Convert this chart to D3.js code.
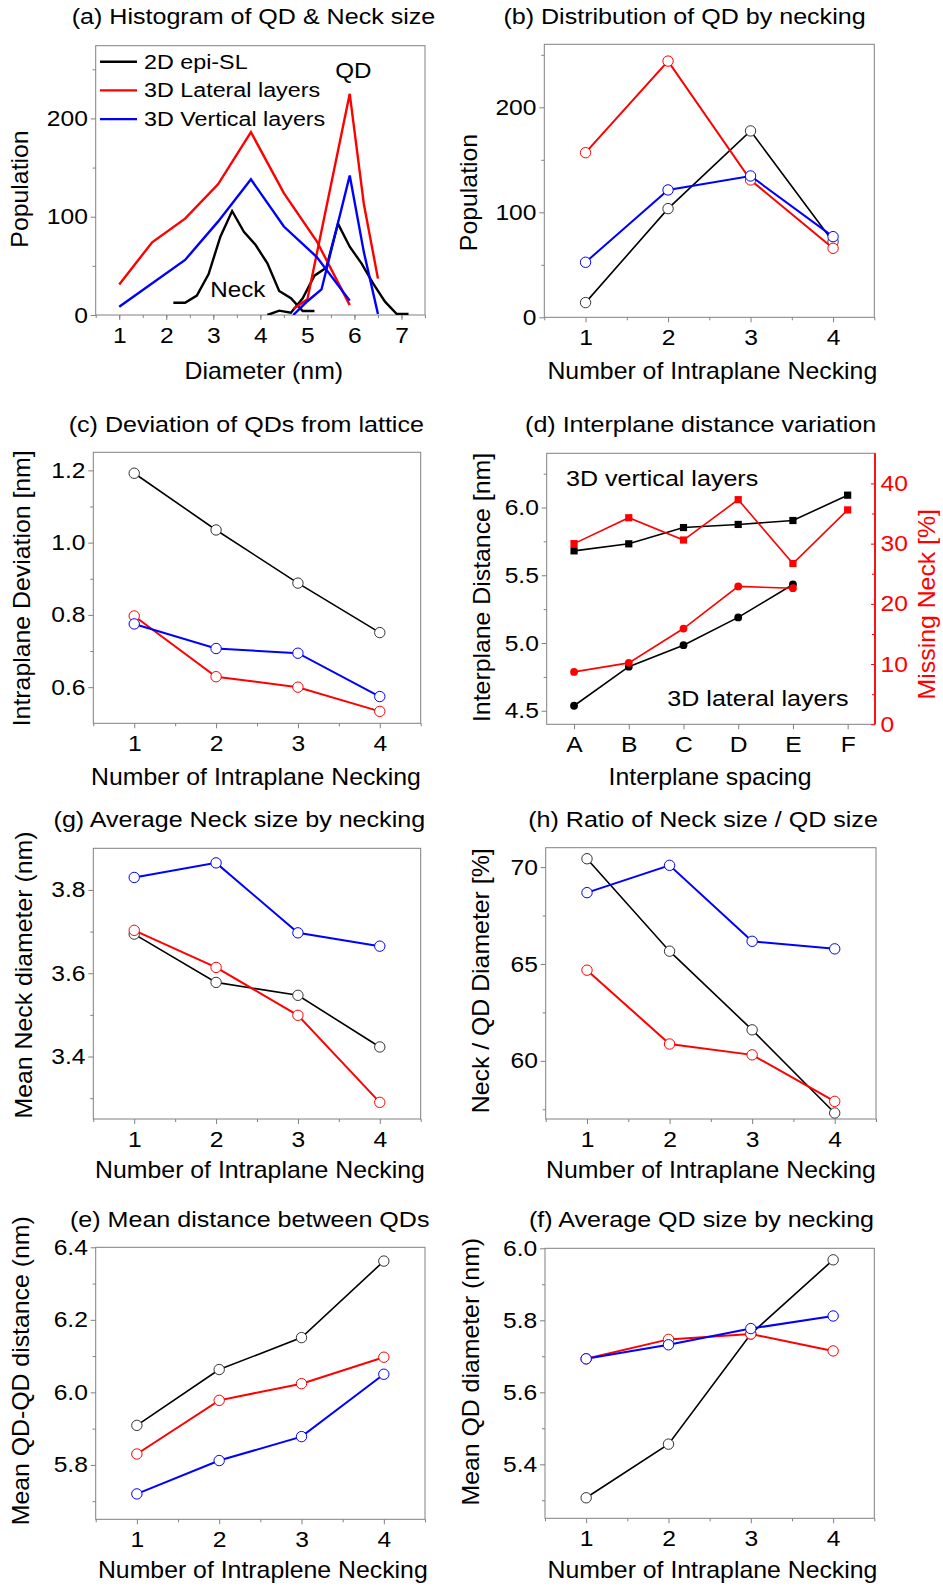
<!DOCTYPE html>
<html><head><meta charset="utf-8">
<script src="https://cdn.jsdelivr.net/npm/d3@7"></script>
<style>
html,body{margin:0;padding:0;background:#fff;}
svg{display:block;}
</style></head><body>
<svg id="chart" width="943" height="1587"></svg>
<script>
// ---------------- DATA ----------------
// (a) histogram of QD & neck size
const seriesNames = ["2D epi-SL", "3D Lateral layers", "3D Vertical layers"];
const diamTicks = [1, 2, 3, 4, 5, 6, 7];
const popTicks = [0, 100, 200];
const neckX_2D = [2.15, 2.4, 2.65, 2.9, 3.15, 3.4, 3.65, 3.9, 4.15, 4.4, 4.65, 4.9, 5.15];
const neck_2D  = [12.5, 12.5, 19.7, 41.7, 79.7, 105.8, 84.7, 71.2, 52.5, 24.4, 17, 4, 4];
const qdX_2D   = [4.15, 4.4, 4.65, 4.9, 5.15, 5.4, 5.65, 5.9, 6.15, 6.4, 6.65, 6.9, 7.15];
const qd_2D    = [0, 4.4, 2.4, 17, 40, 48, 93, 69.5, 52.5, 32, 13.6, 1, 1];
const neckX_Lat = [1, 1.7, 2.4, 3.1, 3.8, 4.5, 5.2, 5.9];
const neck_Lat  = [31, 74, 98, 133, 186, 124, 75, 10];
const qdX_Lat   = [4.7, 5.0, 5.9, 6.2, 6.5];
const qd_Lat    = [6, 16, 225, 113, 37];
const neckX_Ver = [1, 2.4, 3.1, 3.8, 4.5, 5.2, 5.9];
const neck_Ver  = [8.5, 56, 95, 138, 90, 59, 14.6];
const qdX_Ver   = [4.7, 5.0, 5.3, 5.9, 6.2, 6.5];
const qd_Ver    = [0, 14, 26, 142, 64, 1];

// x categories for necking panels
const necking = [1, 2, 3, 4];
// (b) distribution of QD by necking
const pop_2D  = [14, 103.5, 177.5, 72];
const pop_Lat = [156.8, 244, 130.8, 65.7];
const pop_Ver = [52.4, 121.3, 134.6, 76.8];
// (c) deviation of QDs from lattice
const devTicks = [0.6, 0.8, 1.0, 1.2];
const dev_2D  = [1.192, 1.035, 0.888, 0.751];
const dev_Lat = [0.797, 0.629, 0.600, 0.533];
const dev_Ver = [0.775, 0.707, 0.694, 0.574];
// (d) interplane distance variation
const spacing = ["A", "B", "C", "D", "E", "F"];
const distTicks = [4.5, 5.0, 5.5, 6.0];
const missTicks = [0, 10, 20, 30, 40];
const dist_Ver = [5.680, 5.732, 5.852, 5.875, 5.904, 6.091];
const dist_Lat = [4.537, 4.825, 4.984, 5.189, 5.432];
const miss_Ver = [30.0, 34.3, 30.6, 37.3, 26.7, 35.6];
const miss_Lat = [8.7, 10.2, 15.9, 22.9, 22.6];
// (g) average neck size by necking
const neckSizeTicks = [3.4, 3.6, 3.8];
const neckSize_2D  = [3.694, 3.578, 3.547, 3.423];
const neckSize_Lat = [3.703, 3.614, 3.499, 3.290];
const neckSize_Ver = [3.830, 3.865, 3.697, 3.665];
// (h) ratio of neck size / QD size
const ratioTicks = [60, 65, 70];
const ratio_2D  = [70.43, 65.66, 61.6, 57.31];
const ratio_Lat = [64.68, 60.87, 60.31, 57.91];
const ratio_Ver = [68.68, 70.09, 66.17, 65.78];
// (e) mean distance between QDs
const qddTicks = [5.8, 6.0, 6.2, 6.4];
const qdd_2D  = [5.909, 6.063, 6.151, 6.362];
const qdd_Lat = [5.830, 5.978, 6.024, 6.097];
const qdd_Ver = [5.720, 5.812, 5.878, 6.050];
// (f) average QD size by necking
const qdsTicks = [5.4, 5.6, 5.8, 6.0];
const qds_2D  = [5.307, 5.456, 5.762, 5.968];
const qds_Lat = [5.693, 5.747, 5.762, 5.715];
const qds_Ver = [5.693, 5.732, 5.777, 5.812];

// ---------------- STYLE ----------------
const FONT = '"Liberation Sans", Arial, Helvetica, sans-serif';
const GRAY = "#808080";
const BLACK = "#000000", RED = "#ff0000", BLUE = "#0000ff";
const SXT = 1.12;   // horizontal stretch for tick labels
const svg = d3.select("#chart");
let clipId = 0;

function txt(parent, s, x, y, o = {}) {
  return parent.append("text").text(s)
    .attr("transform", `translate(${x},${y})${o.rotate ? ` rotate(${o.rotate})` : ""} scale(${o.sx || 1.12},1)`)
    .attr("text-anchor", o.anchor || "middle")
    .attr("font-size", o.size || 22)
    .attr("font-family", FONT)
    .attr("fill", o.fill || "#000");
}

function styleAxis(sel, color) {
  sel.select(".domain").remove();
  sel.attr("font-size", null).attr("font-family", null);
  sel.selectAll(".tick line").attr("stroke", color || GRAY).attr("stroke-width", 1);
  sel.selectAll(".tick text")
    .attr("font-size", 22).attr("font-family", FONT)
    .attr("fill", color || "#000")
    .attr("transform", `scale(${SXT},1)`);
}

function panel(c) {
  const g = svg.append("g");
  const x = c.xScale || d3.scaleLinear().domain(c.xDomain).range([c.l, c.r]);
  const y = d3.scaleLinear().domain(c.yDomain).range([c.b, c.t]);
  if (c.xMinor) g.append("g").attr("transform", `translate(0,${c.b})`)
    .call(d3.axisBottom(x).tickValues(c.xMinor).tickSize(3).tickFormat(""))
    .call(s => styleAxis(s));
  g.append("g").attr("transform", `translate(0,${c.b})`)
    .call(d3.axisBottom(x).tickValues(c.xTicks).tickSize(5).tickPadding(7).tickFormat(c.xFmt || d3.format("d")))
    .call(s => styleAxis(s));
  if (c.yMinor) g.append("g").attr("transform", `translate(${c.l},0)`)
    .call(d3.axisLeft(y).tickValues(c.yMinor).tickSize(3).tickFormat(""))
    .call(s => styleAxis(s));
  g.append("g").attr("transform", `translate(${c.l},0)`)
    .call(d3.axisLeft(y).tickValues(c.yTicks).tickSize(5).tickPadding(2).tickFormat(c.yFmt))
    .call(s => styleAxis(s));
  g.append("rect").attr("x", c.l).attr("y", c.t).attr("width", c.r - c.l).attr("height", c.b - c.t)
    .attr("fill", "none").attr("stroke", GRAY).attr("stroke-width", 1);
  const id = "clip" + (clipId++);
  svg.append("clipPath").attr("id", id).append("rect")
    .attr("x", c.l).attr("y", c.t).attr("width", c.r - c.l).attr("height", c.b - c.t);
  const clipped = g.append("g").attr("clip-path", `url(#${id})`);
  const plot = g.append("g");
  txt(g, c.title[0], c.title[1], c.title[2], { sx: 1.14 });
  txt(g, c.xlab[0], c.xlab[1], c.xlab[2], { size: 23, sx: 1.08 });
  txt(g, c.ylab[0], c.ylab[1], c.ylab[2], { size: 23, sx: 1.08, rotate: -90 });
  return { g, x, y, plot, clipped, c };
}

function lineCircles(p, xs, ys, color, lw) {
  const pts = xs.map((v, i) => [v, ys[i]]);
  const line = d3.line().x(d => p.x(d[0])).y(d => p.y(d[1]));
  p.plot.append("path").datum(pts).attr("d", line)
    .attr("fill", "none").attr("stroke", color).attr("stroke-width", lw);
  p.plot.append("g").selectAll("circle").data(pts).join("circle")
    .attr("cx", d => p.x(d[0])).attr("cy", d => p.y(d[1])).attr("r", 5.2)
    .attr("fill", "#fff").attr("stroke", color === BLACK ? "#333" : color).attr("stroke-width", 1);
}

function histLine(p, xs, ys, color) {
  const pts = xs.map((v, i) => [v, ys[i]]);
  p.clipped.append("path").datum(pts)
    .attr("d", d3.line().x(d => p.x(d[0])).y(d => p.y(d[1])))
    .attr("fill", "none").attr("stroke", color).attr("stroke-width", 2.4).attr("stroke-linejoin", "miter");
}

const halfSteps4 = d3.range(0.5, 4.6, 1);
const lineFmt = d3.format(".1f");

// ---------------- (a) ----------------
const pa = panel({
  l: 95.7, r: 425, t: 45.7, b: 315, xDomain: [0.5, 7.5], yDomain: [0, 274],
  xTicks: diamTicks, xMinor: d3.range(0.5, 7.6, 0.5), yTicks: popTicks, yMinor: [50, 150, 250], yFmt: d3.format("d"),
  title: ["(a) Histogram of QD & Neck size", 253.5, 24],
  xlab: ["Diameter (nm)", 263.8, 379], ylab: ["Population", 27.5, 189]
});
histLine(pa, neckX_2D, neck_2D, BLACK);
histLine(pa, qdX_2D, qd_2D, BLACK);
histLine(pa, neckX_Lat, neck_Lat, RED);
histLine(pa, qdX_Lat, qd_Lat, RED);
histLine(pa, neckX_Ver, neck_Ver, BLUE);
histLine(pa, qdX_Ver, qd_Ver, BLUE);
[BLACK, RED, BLUE].forEach((col, i) => {
  const yy = 61.7 + i * 28.7;
  pa.g.append("line").attr("x1", 100).attr("x2", 137).attr("y1", yy).attr("y2", yy)
    .attr("stroke", col).attr("stroke-width", 2.4);
  txt(pa.g, seriesNames[i], 144, yy + 7, { anchor: "start", size: 21, sx: 1.11 });
});
txt(pa.g, "QD", 353.3, 78.3, { size: 22, sx: 1.1 });
txt(pa.g, "Neck", 237.8, 296.7, { size: 22, sx: 1.1 });

// ---------------- (b) ----------------
const pb = panel({
  l: 544.3, r: 874.3, t: 44.3, b: 317.3, xDomain: [0.5, 4.5], yDomain: [0, 260],
  xTicks: necking, xMinor: halfSteps4, yTicks: popTicks, yMinor: [50, 150, 250], yFmt: d3.format("d"),
  title: ["(b) Distribution of QD by necking", 684.5, 24],
  xlab: ["Number of Intraplane Necking", 712.3, 379], ylab: ["Population", 476.9, 192.5]
});
lineCircles(pb, necking, pop_2D, BLACK, 1.6);
lineCircles(pb, necking, pop_Lat, RED, 2);
lineCircles(pb, necking, pop_Ver, BLUE, 2);

// ---------------- (c) ----------------
const pc = panel({
  l: 93.3, r: 420.7, t: 452.3, b: 723.3, xDomain: [0.5, 4.5], yDomain: [0.5, 1.25],
  xTicks: necking, xMinor: halfSteps4, yTicks: devTicks, yMinor: [0.7, 0.9, 1.1], yFmt: lineFmt,
  title: ["(c) Deviation of QDs from lattice", 246.3, 431.7],
  xlab: ["Number of Intraplane Necking", 256, 785], ylab: ["Intraplane Deviation [nm]", 30.2, 588.3]
});
lineCircles(pc, necking, dev_2D, BLACK, 1.6);
lineCircles(pc, necking, dev_Lat, RED, 2);
lineCircles(pc, necking, dev_Ver, BLUE, 2);

// ---------------- (d) ----------------
const dL = 546.7, dR = 875, dT = 453.3, dB = 724.3;
const pd = panel({
  l: dL, r: dR, t: dT, b: dB,
  xScale: d3.scalePoint().domain(spacing).range([dL, dR]).padding(0.5),
  yDomain: [4.4, 6.4], xTicks: spacing, xFmt: d => d,
  yTicks: distTicks, yMinor: [4.75, 5.25, 5.75, 6.25], yFmt: lineFmt,
  title: ["(d) Interplane distance variation", 700.6, 431.7],
  xlab: ["Interplane spacing", 710, 785], ylab: ["Interplane Distance [nm]", 490.2, 587.5]
});
const y2 = d3.scaleLinear().domain([0, 45]).range([dB, dT]);
pd.g.append("g").attr("transform", `translate(${dR},0)`)
  .call(d3.axisRight(y2).tickValues([5, 15, 25, 35]).tickSize(-3).tickFormat(""))
  .call(s => styleAxis(s, RED));
pd.g.append("g").attr("transform", `translate(${dR},0)`)
  .call(d3.axisRight(y2).tickValues(missTicks).tickSize(-4).tickPadding(5).tickFormat(d3.format("d")))
  .call(s => styleAxis(s, RED));
pd.g.append("line").attr("x1", dR).attr("x2", dR).attr("y1", dT).attr("y2", dB)
  .attr("stroke", RED).attr("stroke-width", 1.8);
txt(pd.g, "Missing Neck [%]", 935.2, 604.2, { size: 23, sx: 1.08, rotate: -90, fill: RED });

function dSeries(cats, vals, scale, color, shape) {
  const pts = cats.map((c, i) => [c, vals[i]]);
  pd.plot.append("path").datum(pts)
    .attr("d", d3.line().x(d => pd.x(d[0])).y(d => scale(d[1])))
    .attr("fill", "none").attr("stroke", color).attr("stroke-width", 1.6);
  const sel = pd.plot.append("g").selectAll("*").data(pts);
  if (shape === "square") {
    sel.join("rect").attr("x", d => pd.x(d[0]) - 3.6).attr("y", d => scale(d[1]) - 3.6)
      .attr("width", 7.2).attr("height", 7.2).attr("fill", color);
  } else {
    sel.join("circle").attr("cx", d => pd.x(d[0])).attr("cy", d => scale(d[1]))
      .attr("r", 3.9).attr("fill", color);
  }
}
dSeries(spacing, dist_Ver, pd.y, BLACK, "square");
dSeries(spacing.slice(0, dist_Lat.length), dist_Lat, pd.y, BLACK, "circle");
dSeries(spacing, miss_Ver, y2, RED, "square");
dSeries(spacing.slice(0, miss_Lat.length), miss_Lat, y2, RED, "circle");
txt(pd.g, "3D vertical layers", 566, 486, { anchor: "start", sx: 1.14 });
txt(pd.g, "3D lateral layers", 667.3, 706, { anchor: "start", sx: 1.14 });

// ---------------- (g) ----------------
const pg = panel({
  l: 93.3, r: 420.7, t: 848.3, b: 1119, xDomain: [0.5, 4.5], yDomain: [3.25, 3.9],
  xTicks: necking, xMinor: halfSteps4, yTicks: neckSizeTicks, yMinor: [3.3, 3.5, 3.7], yFmt: lineFmt,
  title: ["(g) Average Neck size by necking", 239.3, 826.7],
  xlab: ["Number of Intraplane Necking", 260, 1177.7], ylab: ["Mean Neck diameter (nm)", 31.9, 975]
});
lineCircles(pg, necking, neckSize_2D, BLACK, 1.6);
lineCircles(pg, necking, neckSize_Lat, RED, 2);
lineCircles(pg, necking, neckSize_Ver, BLUE, 2);

// ---------------- (h) ----------------
const ph = panel({
  l: 545.7, r: 876, t: 847.7, b: 1119, xDomain: [0.5, 4.5], yDomain: [57, 71],
  xTicks: necking, xMinor: halfSteps4, yTicks: ratioTicks, yMinor: [57.5, 62.5, 67.5], yFmt: d3.format("d"),
  title: ["(h) Ratio of Neck size / QD size", 703, 826.7],
  xlab: ["Number of Intraplane Necking", 711, 1178], ylab: ["Neck / QD Diameter [%]", 488.5, 980.8]
});
lineCircles(ph, necking, ratio_2D, BLACK, 1.6);
lineCircles(ph, necking, ratio_Lat, RED, 2);
lineCircles(ph, necking, ratio_Ver, BLUE, 2);

// ---------------- (e) ----------------
const pe = panel({
  l: 95.7, r: 425, t: 1247.3, b: 1519.3, xDomain: [0.5, 4.5], yDomain: [5.65, 6.4],
  xTicks: necking, xMinor: halfSteps4, yTicks: qddTicks, yMinor: [5.7, 5.9, 6.1, 6.3], yFmt: lineFmt,
  title: ["(e) Mean distance between QDs", 249.7, 1226.7],
  xlab: ["Number of Intraplene Necking", 262.8, 1578], ylab: ["Mean QD-QD distance (nm)", 28.5, 1370.8]
});
lineCircles(pe, necking, qdd_2D, BLACK, 1.6);
lineCircles(pe, necking, qdd_Lat, RED, 2);
lineCircles(pe, necking, qdd_Ver, BLUE, 2);

// ---------------- (f) ----------------
const pf = panel({
  l: 545, r: 874.3, t: 1248.3, b: 1518.3, xDomain: [0.5, 4.5], yDomain: [5.25, 6.0],
  xTicks: necking, xMinor: halfSteps4, yTicks: qdsTicks, yMinor: [5.3, 5.5, 5.7, 5.9], yFmt: lineFmt,
  title: ["(f) Average QD size by necking", 701.5, 1226.7],
  xlab: ["Number of Intraplane Necking", 712.5, 1578], ylab: ["Mean QD diameter (nm)", 479.2, 1371.7]
});
lineCircles(pf, necking, qds_2D, BLACK, 1.6);
lineCircles(pf, necking, qds_Lat, RED, 2);
lineCircles(pf, necking, qds_Ver, BLUE, 2);
</script>
</body></html>
